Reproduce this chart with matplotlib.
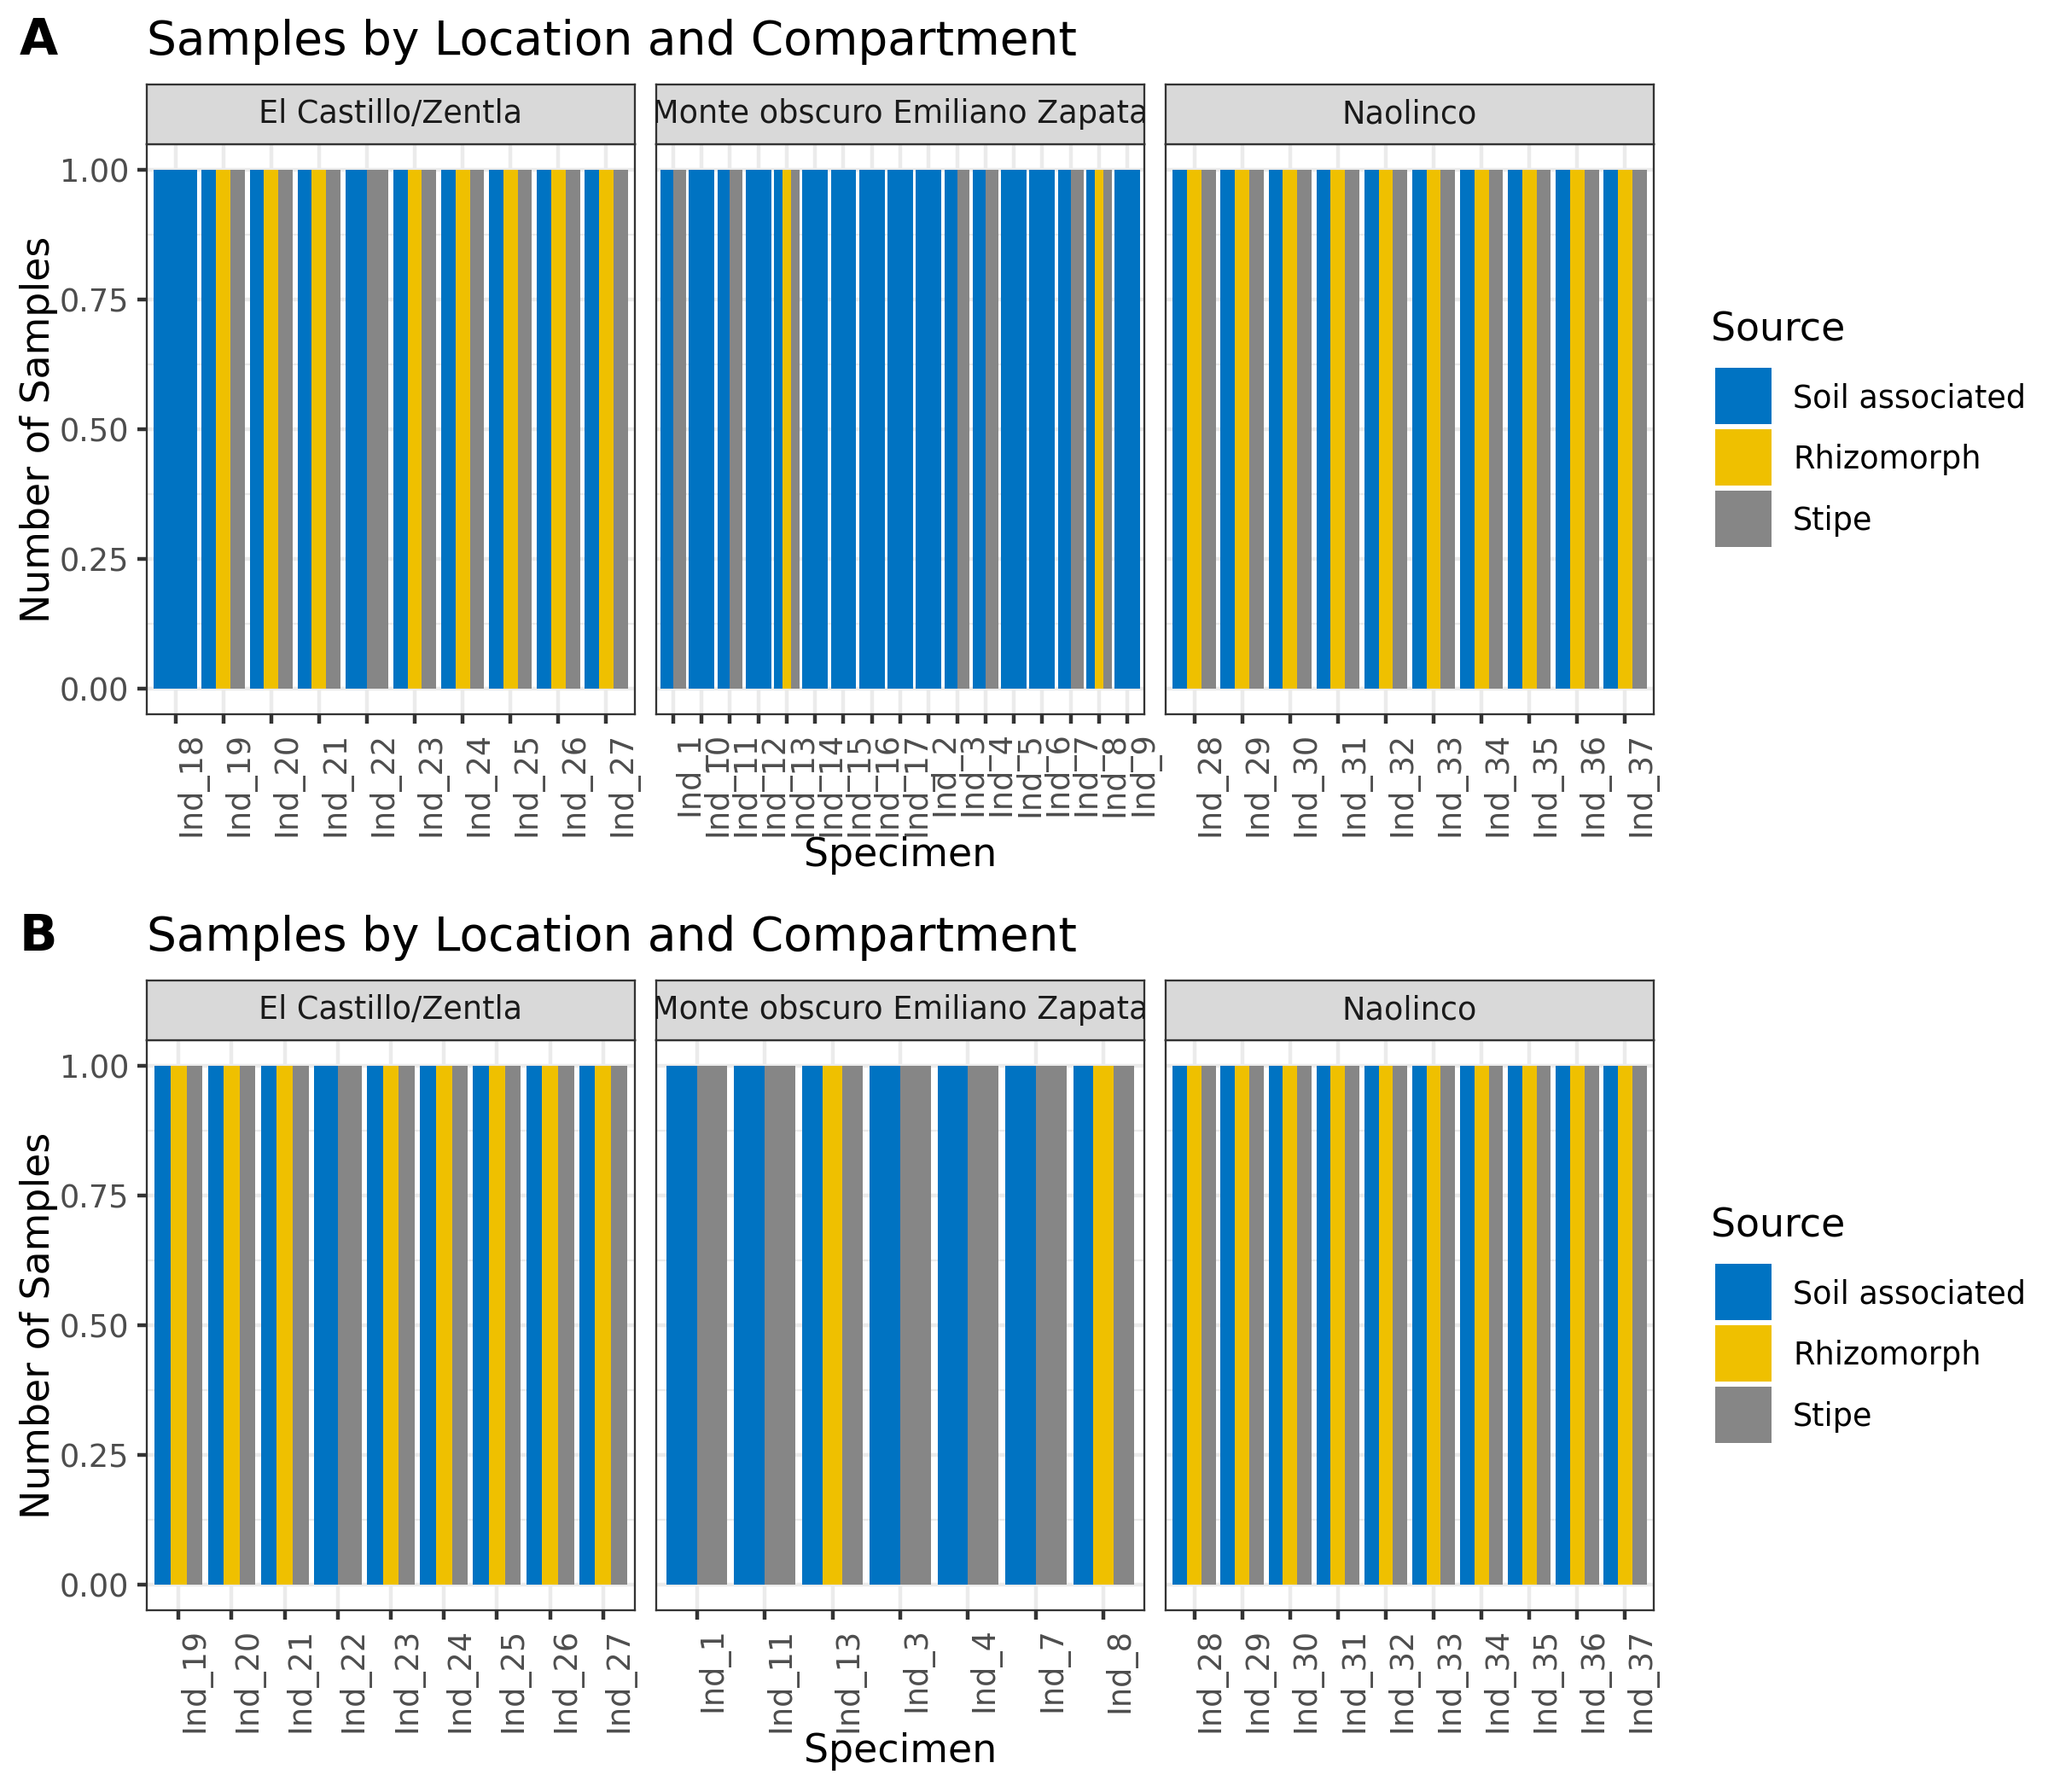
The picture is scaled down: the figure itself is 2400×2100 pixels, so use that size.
import matplotlib
matplotlib.use("Agg")
import matplotlib.pyplot as plt
from matplotlib.patches import Rectangle

plt.rcParams['font.family'] = ['DejaVu Sans']

# ---------------- data ----------------
sources = ["Soil associated", "Rhizomorph", "Stipe"]
source_colors = ["#0073C2", "#EFC000", "#868686"]
locations = ["El Castillo/Zentla", "Monte obscuro Emiliano Zapata", "Naolinco"]

castillo_specimens = ["Ind_18", "Ind_19", "Ind_20", "Ind_21", "Ind_22",
                      "Ind_23", "Ind_24", "Ind_25", "Ind_26", "Ind_27"]
castillo_soil = [1, 1, 1, 1, 1, 1, 1, 1, 1, 1]
castillo_rhizo = [0, 1, 1, 1, 0, 1, 1, 1, 1, 1]
castillo_stipe = [0, 1, 1, 1, 1, 1, 1, 1, 1, 1]

monte_specimens = ["Ind_1", "Ind_10", "Ind_11", "Ind_12", "Ind_13", "Ind_14",
                   "Ind_15", "Ind_16", "Ind_17", "Ind_2", "Ind_3", "Ind_4",
                   "Ind_5", "Ind_6", "Ind_7", "Ind_8", "Ind_9"]
monte_soil = [1, 1, 1, 1, 1, 1, 1, 1, 1, 1, 1, 1, 1, 1, 1, 1, 1]
monte_rhizo = [0, 0, 0, 0, 1, 0, 0, 0, 0, 0, 0, 0, 0, 0, 0, 1, 0]
monte_stipe = [1, 0, 1, 0, 1, 0, 0, 0, 0, 0, 1, 1, 0, 0, 1, 1, 0]

naolinco_specimens = ["Ind_28", "Ind_29", "Ind_30", "Ind_31", "Ind_32",
                      "Ind_33", "Ind_34", "Ind_35", "Ind_36", "Ind_37"]
naolinco_soil = [1, 1, 1, 1, 1, 1, 1, 1, 1, 1]
naolinco_rhizo = [1, 1, 1, 1, 1, 1, 1, 1, 1, 1]
naolinco_stipe = [1, 1, 1, 1, 1, 1, 1, 1, 1, 1]

# Panel B: specimens shown (subset of panel A)
b_castillo_specimens = ["Ind_19", "Ind_20", "Ind_21", "Ind_22", "Ind_23",
                        "Ind_24", "Ind_25", "Ind_26", "Ind_27"]
b_monte_specimens = ["Ind_1", "Ind_11", "Ind_13", "Ind_3", "Ind_4", "Ind_7", "Ind_8"]
b_naolinco_specimens = ["Ind_28", "Ind_29", "Ind_30", "Ind_31", "Ind_32",
                        "Ind_33", "Ind_34", "Ind_35", "Ind_36", "Ind_37"]

y_ticks = [0.0, 0.25, 0.5, 0.75, 1.0]
y_tick_labels = ["0.00", "0.25", "0.50", "0.75", "1.00"]

panel_letters = ["A", "B"]
plot_title = "Samples by Location and Compartment"
x_title = "Specimen"
y_title = "Number of Samples"
legend_title = "Source"

# ------------- assemble tables -------------
a_tables = [
    (castillo_specimens, [castillo_soil, castillo_rhizo, castillo_stipe]),
    (monte_specimens, [monte_soil, monte_rhizo, monte_stipe]),
    (naolinco_specimens, [naolinco_soil, naolinco_rhizo, naolinco_stipe]),
]


def subset(table, keep):
    specs, vals = table
    idx = [specs.index(s) for s in keep]
    return (list(keep), [[v[i] for i in idx] for v in vals])


b_tables = [
    subset(a_tables[0], b_castillo_specimens),
    subset(a_tables[1], b_monte_specimens),
    subset(a_tables[2], b_naolinco_specimens),
]

# ---------------- layout ----------------
W, H = 2400, 2100
fig = plt.figure(figsize=(8, 7), dpi=300)
fig.patch.set_facecolor("white")


def rect(left, top, width, height):
    return [left / W, 1 - (top + height) / H, width / W, height / H]


facet_left = [172, 769, 1366]
facet_w = 572
strip_top = 98.5
strip_h = 70.5
panel_top = 169
panel_h = 668

GRID = "#EBEBEB"
DARK = "#333333"
AXTXT = "#4D4D4D"


def draw_subplot(yoff, tables, letter):
    # letter + title
    fig.text(23 / W, 1 - (63.5 + yoff) / H, letter, fontsize=14, fontweight="bold",
             ha="left", va="baseline")
    fig.text(172 / W, 1 - (63.5 + yoff) / H, plot_title, fontsize=13.2,
             ha="left", va="baseline")

    for fi, (loc, (specs, vals)) in enumerate(zip(locations, tables)):
        ax = fig.add_axes(rect(facet_left[fi], panel_top + yoff, facet_w, panel_h))
        n = len(specs)
        for i in range(n):
            present = [k for k in range(3) if vals[k][i] > 0]
            m = len(present)
            w = 0.9 / m
            for j, k in enumerate(present):
                x = i + 1 - 0.45 + (j + 0.5) * w
                ax.bar(x, vals[k][i], width=w, color=source_colors[k],
                       linewidth=0, zorder=2)
        ax.set_xlim(0.4, n + 0.6)
        ax.set_ylim(-0.05, 1.05)
        ax.set_xticks(range(1, n + 1))
        ax.set_xticklabels(specs, rotation=90, ha="left", va="top",
                           fontsize=8.8, color=AXTXT)
        ax.set_yticks(y_ticks)
        ax.set_yticks([0.125, 0.375, 0.625, 0.875], minor=True)
        ax.set_axisbelow(True)
        ax.grid(which="major", color=GRID, linewidth=1.07, zorder=0)
        ax.grid(which="minor", axis="y", color=GRID, linewidth=0.53, zorder=0)
        ax.tick_params(which="minor", length=0)
        ax.tick_params(axis="both", which="major", length=2.75 * 1.0, width=1.07,
                       color=DARK, pad=2.2)
        if fi == 0:
            ax.set_yticklabels(y_tick_labels, fontsize=8.8, color=AXTXT)
        else:
            ax.tick_params(axis="y", which="both", left=False, labelleft=False)
        for sp in ax.spines.values():
            sp.set_color(DARK)
            sp.set_linewidth(0.55)
            sp.set_zorder(5)

        # strip
        sax = fig.add_axes(rect(facet_left[fi], strip_top + yoff, facet_w, strip_h))
        sax.set_facecolor("#D9D9D9")
        sax.set_xticks([])
        sax.set_yticks([])
        for sp in sax.spines.values():
            sp.set_color(DARK)
            sp.set_linewidth(0.55)
        sax.text(0.5, 0.5, loc, transform=sax.transAxes, ha="center",
                 va="center", fontsize=8.8, color="#1A1A1A", clip_on=True)

    # axis titles
    fig.text(46 / W, 1 - (panel_top + panel_h / 2 + yoff) / H, y_title,
             rotation=90, fontsize=11, ha="center", va="center")
    cx = (facet_left[0] + facet_left[2] + facet_w) / 2
    fig.text(cx / W, 1 - (1015 + yoff) / H, x_title, fontsize=11,
             ha="center", va="baseline")

    # legend
    fig.text(2005 / W, 1 - (400 + yoff) / H, legend_title, fontsize=11,
             ha="left", va="baseline")
    key_tops = [431, 503, 575]
    for k in range(3):
        t = key_tops[k] + yoff
        fig.add_artist(Rectangle((2010 / W, 1 - (t + 66) / H), 66 / W, 66 / H,
                                 transform=fig.transFigure,
                                 facecolor=source_colors[k], edgecolor="none"))
        fig.text(2101 / W, 1 - (t + 33 + 13.4) / H, sources[k], fontsize=8.8,
                 ha="left", va="baseline")


draw_subplot(0, a_tables, panel_letters[0])
draw_subplot(1050, b_tables, panel_letters[1])

fig.savefig("out.png", dpi=300)
